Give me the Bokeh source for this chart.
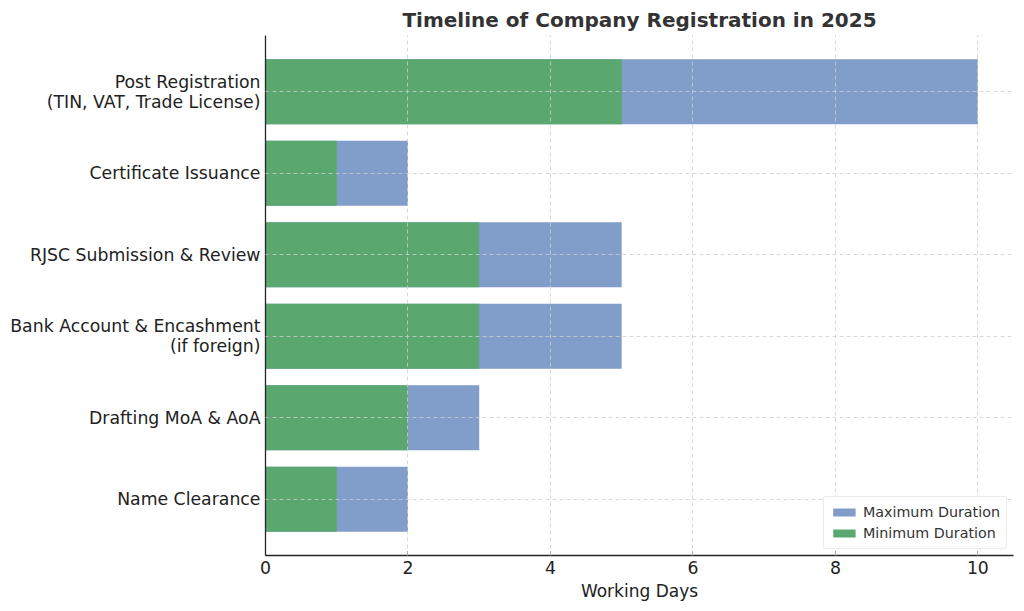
from bokeh.plotting import figure
from bokeh.models import Range1d, FixedTicker, Legend, LegendItem
from bokeh.embed import file_html
from bokeh.resources import INLINE

stages = [
    "Name Clearance",
    "Drafting MoA & AoA",
    "Bank Account & Encashment\n(if foreign)",
    "RJSC Submission & Review",
    "Certificate Issuance",
    "Post Registration\n(TIN, VAT, Trade License)",
]
min_days = [1, 2, 3, 3, 1, 5]
max_days = [2, 3, 5, 5, 2, 10]
x_ticks = [0, 2, 4, 6, 8, 10]

FONT = "DejaVu Sans"
BLUE = "#819dc9"
GREEN = "#5aa770"

ys = list(range(len(stages)))

p = figure(width=1016, height=603, output_backend="svg", toolbar_location=None,
           x_range=Range1d(0, 10.5), y_range=Range1d(-0.69, 5.69),
           min_border_left=265, min_border_right=3, min_border_bottom=48, min_border_top=35)

p.title.text = "Timeline of Company Registration in 2025"
p.title.text_font = FONT
p.title.text_font_size = "20px"
p.title.text_font_style = "bold"
p.title.text_color = "#333333"
p.title.align = "center"
p.title.offset = 0
p.title.standoff = 7

r_max = p.hbar(y=ys, left=0, right=max_days, height=0.8, color=BLUE, line_color=None)
r_min = p.hbar(y=ys, left=0, right=min_days, height=0.8, color=GREEN, line_color=None)

p.outline_line_color = None

for ax in (p.xaxis[0], p.yaxis[0]):
    ax.axis_line_color = "#262626"
    ax.axis_line_width = 1.3
    ax.major_tick_in = 4
    ax.major_tick_out = 0
    ax.major_tick_line_color = "#262626"
    ax.minor_tick_line_color = None
    ax.major_label_text_font = FONT
    ax.major_label_text_font_size = "17.3px"
    ax.major_label_text_color = "#222222"

p.xaxis.ticker = FixedTicker(ticks=x_ticks)
p.xaxis.axis_label = "Working Days"
p.xaxis.axis_label_text_font = FONT
p.xaxis.axis_label_text_font_size = "17px"
p.xaxis.axis_label_text_font_style = "normal"
p.xaxis.axis_label_text_color = "#222222"
p.xaxis.axis_label_standoff = 4
p.xaxis.major_label_standoff = 5

p.yaxis.ticker = FixedTicker(ticks=ys)
p.yaxis.major_label_overrides = {i: s for i, s in enumerate(stages)}
p.yaxis.major_label_standoff = 5
p.yaxis.major_label_text_line_height = 1.0

for g in (p.xgrid[0], p.ygrid[0]):
    g.grid_line_color = "#cfcfcf"
    g.grid_line_dash = "4 3"
    g.grid_line_width = 0.8
    g.level = "overlay"
p.ygrid.ticker = FixedTicker(ticks=ys)

legend = Legend(items=[LegendItem(label="Maximum Duration", renderers=[r_max]),
                       LegendItem(label="Minimum Duration", renderers=[r_min])],
                location="bottom_right")
legend.label_text_font = FONT
legend.label_text_font_size = "14.3px"
legend.label_text_color = "#333333"
legend.border_line_color = "#d8d8d8"
legend.border_radius = 3
legend.glyph_width = 28
legend.glyph_height = 10
legend.label_height = 18
legend.spacing = 3
legend.padding = 6
legend.margin = 6
legend.background_fill_alpha = 0.85
p.add_layout(legend)

open("out.html", "w").write(file_html(p, INLINE))
